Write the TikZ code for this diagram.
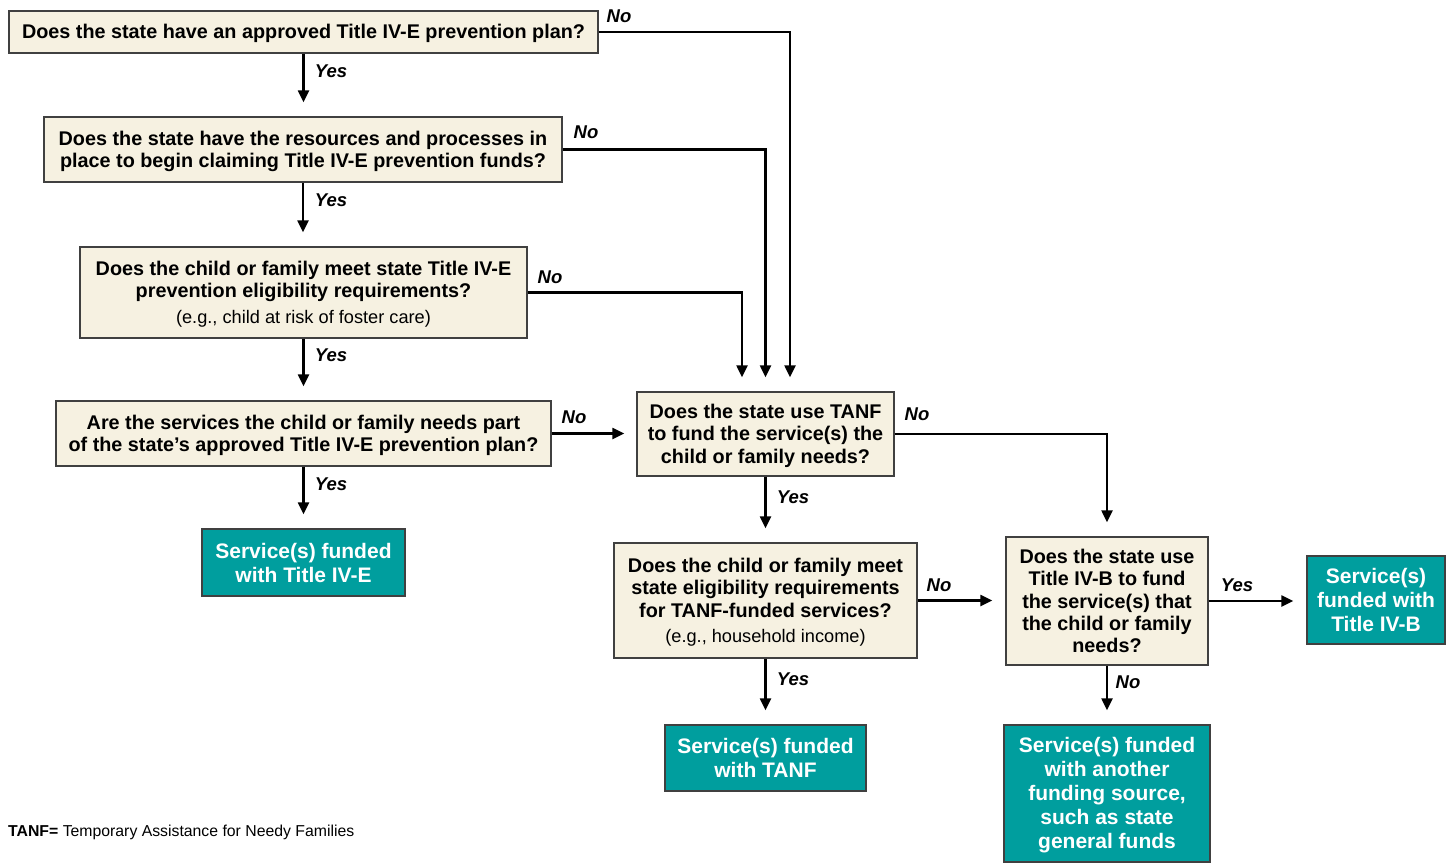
\documentclass[tikz,border=0pt]{standalone}
\usepackage{fontspec}
\setmainfont{Liberation Sans}
\usetikzlibrary{arrows.meta}
\definecolor{beige}{HTML}{F6F1E1}
\definecolor{tealbox}{HTML}{009E9E}
\definecolor{edgegray}{HTML}{404040}
\newcommand{\egfont}{\normalfont\fontsize{18.2}{22}\selectfont}
\newcommand{\tstrut}{\rule{0pt}{17.5pt}}
\begin{document}
\begin{tikzpicture}[x=1pt,y=-1pt,
 q/.style={draw=edgegray, line width=1.3pt, fill=beige, align=center, inner sep=0pt, font=\fontsize{19.8}{22.3}\selectfont\bfseries},
 r/.style={draw=edgegray, line width=1.3pt, fill=tealbox, text=white, align=center, inner sep=0pt, font=\fontsize{21}{24}\selectfont\bfseries},
 arr/.style={line width=2.2pt, -{Triangle[length=12pt,width=11pt]}, shorten >=14pt},
 lab/.style={font=\fontsize{18.5}{20}\selectfont\bfseries\itshape, inner sep=0pt}]
\useasboundingbox (0,0) rectangle (1450,862);

\node[q, minimum width=589pt, minimum height=42pt] (B1) at (303.5,32) {\tstrut Does the state have an approved Title IV-E prevention plan?};
\node[q, minimum width=518pt, minimum height=65pt] (B2) at (303,149.5) {\tstrut Does the state have the resources and processes in\\place to begin claiming Title IV-E prevention funds?};
\node[q, minimum width=447pt, minimum height=91pt] (B3) at (303.5,292.5) {\tstrut Does the child or family meet state Title IV-E\\prevention eligibility requirements?\\[3pt]{\egfont (e.g., child at risk of foster care)}};
\node[q, minimum width=495pt, minimum height=65pt] (B4) at (303.5,433.5) {\tstrut Are the services the child or family needs part\\of the state’s approved Title IV-E prevention plan?};
\node[r, minimum width=203pt, minimum height=67pt] (T1) at (303.5,562.5) {Service(s) funded\\with Title IV-E};
\node[q, minimum width=257pt, minimum height=84pt] (B5) at (765.5,434) {\tstrut Does the state use TANF\\to fund the service(s) the\\child or family needs?};
\node[q, minimum width=303pt, minimum height=115pt] (B6) at (765.5,600.5) {\tstrut Does the child or family meet\\state eligibility requirements\\for TANF-funded services?\\[3pt]{\egfont (e.g., household income)}};
\node[r, minimum width=201pt, minimum height=66pt] (T2) at (765.5,758) {Service(s) funded\\with TANF};
\node[q, minimum width=202pt, minimum height=128pt] (B7) at (1107,601) {Does the state use\\Title IV-B to fund\\the service(s) that\\the child or family\\needs?};
\node[r, minimum width=138pt, minimum height=88pt] (T3) at (1376,600) {Service(s)\\funded with\\Title IV-B};
\node[r, minimum width=206pt, minimum height=137pt] (T4) at (1107,793.5) {\tstrut Service(s) funded\\with another\\funding source,\\such as state\\general funds};

\node[anchor=west, inner sep=0pt, font=\fontsize{15.8}{18}\selectfont] (fn) at (8,832) {\textbf{TANF=} Temporary Assistance for Needy Families};

% connectors
\draw[arr] (B1.south) -- (B1.south |- B2.north);
\draw[arr] (B2.south) -- (B2.south |- B3.north);
\draw[arr] (B3.south) -- (B3.south |- B4.north);
\draw[arr] (B4.south) -- (B4.south |- T1.north);
\draw[arr] (B1.east) -| ([xshift=24.5pt]B5.north);
\draw[arr] (B2.east) -| (B5.north);
\draw[arr] (B3.east) -| ([xshift=-23.5pt]B5.north);
\draw[arr, shorten >=12pt] (B4.east) -- (B4.east -| B5.west);
\draw[arr] (B5.east) -| (B7.north);
\draw[arr] (B5.south) -- (B6.north);
\draw[arr, shorten >=13pt] (B6.east) -- (B6.east -| B7.west);
\draw[arr] (B6.south) -- (T2.north);
\draw[arr, shorten >=13pt] (B7.east) -- (B7.east -| T3.west);
\draw[arr] (B7.south) -- (T4.north);

% labels
\node[lab] (n1) at (619,16) {No};
\node[lab] (y1) at (331,71) {Yes};
\node[lab] (n2) at (586,132) {No};
\node[lab] (y2) at (331,200) {Yes};
\node[lab] (n3) at (550,277) {No};
\node[lab] (y3) at (331,355) {Yes};
\node[lab] (n4) at (574,417) {No};
\node[lab] (y4) at (331,484) {Yes};
\node[lab] (n5) at (917,414) {No};
\node[lab] (y5) at (793,497) {Yes};
\node[lab] (n6) at (939,585) {No};
\node[lab] (y6) at (793,679) {Yes};
\node[lab] (y7) at (1237,585) {Yes};
\node[lab] (n7) at (1128,682) {No};
\end{tikzpicture}
\end{document}
